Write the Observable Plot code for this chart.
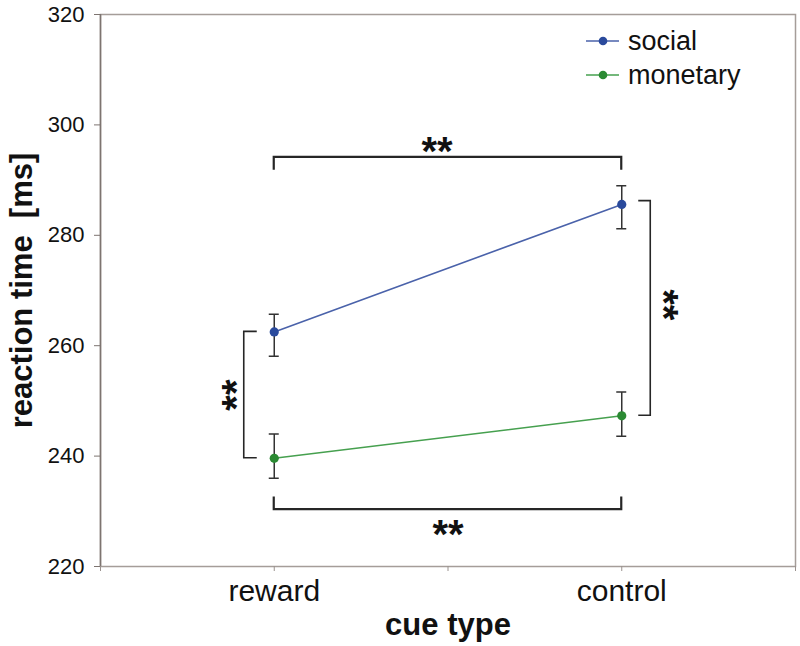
<!DOCTYPE html>
<html>
<head>
<meta charset="utf-8">
<script src="https://cdn.jsdelivr.net/npm/d3@7"></script>
<script src="https://cdn.jsdelivr.net/npm/@observablehq/plot@0.6"></script>
<style>
  body { margin: 0; background: #fff; }
  #wrap { position: relative; width: 800px; height: 646px; font-family: "Liberation Sans", Arial, sans-serif; }
  #legend { position: absolute; left: 586px; top: 24px; font-size: 27px; color: #111; }
  #legend .item { display: flex; align-items: center; height: 34px; }
  #legend svg { margin-right: 8px; }
</style>
</head>
<body>
<div id="wrap"><div id="legend"></div></div>
<script>
// ---- data ----
const categories = ["reward", "control"];
const socialMean = [262.5, 285.6];
const socialLow  = [258.0, 281.1];
const socialHigh = [265.6, 288.9];
const monetaryMean = [239.6, 247.3];
const monetaryLow  = [235.9, 243.5];
const monetaryHigh = [243.9, 251.5];
const yTicks = [220, 240, 260, 280, 300, 320];
const seriesNames = ["social", "monetary"];
const seriesDot  = ["#2a4a9c", "#2b8a33"];
const seriesLine = ["#4a62aa", "#46a04f"];
// significance brackets (value levels)
const topBracket = [294.1, 291.8];      // level, tip
const bottomBracket = [230.3, 232.6];   // level, tip
const rightBracketTop = 286.2;
const rightStarLevel = 267.4;
const sigLabel = "**";

// ---- table ----
const rows = [];
categories.forEach((c, i) => {
  rows.push({series: "social", xi: i + 0.5, cat: c, mean: socialMean[i], lo: socialLow[i], hi: socialHigh[i]});
  rows.push({series: "monetary", xi: i + 0.5, cat: c, mean: monetaryMean[i], lo: monetaryLow[i], hi: monetaryHigh[i]});
});
const colorOf = s => seriesDot[seriesNames.indexOf(s)];
const lineOf = s => seriesLine[seriesNames.indexOf(s)];

function brackets(index, scales) {
  const x = scales.x, y = scales.y;
  const g = d3.create("svg:g").attr("fill", "none").attr("stroke", "#262626");
  const x0 = x(0.5), x1 = x(1.5);
  g.append("path").attr("stroke-width", 2.2)
    .attr("d", `M${x0},${y(topBracket[1])}V${y(topBracket[0])}H${x1}V${y(topBracket[1])}`);
  g.append("path").attr("stroke-width", 2.2)
    .attr("d", `M${x0},${y(bottomBracket[1])}V${y(bottomBracket[0])}H${x1}V${y(bottomBracket[1])}`);
  const lx = x0 - 30, lt = x0 - 17;
  g.append("path").attr("stroke-width", 1.6)
    .attr("d", `M${lt},${y(socialMean[0])}H${lx}V${y(monetaryMean[0])}H${lt}`);
  const rx = x1 + 29, rt = x1 + 17;
  g.append("path").attr("stroke-width", 1.6)
    .attr("d", `M${rt},${y(rightBracketTop)}H${rx}V${y(monetaryMean[1])}H${rt}`);
  return g.node();
}

function errorCaps(index, scales) {
  const x = scales.x, y = scales.y;
  const g = d3.create("svg:g").attr("fill", "none").attr("stroke", "#333").attr("stroke-width", 1.5);
  for (const r of rows) {
    const cx = x(r.xi);
    g.append("path").attr("d", `M${cx - 5},${y(r.lo)}H${cx + 5}M${cx - 5},${y(r.hi)}H${cx + 5}`);
  }
  return g.node();
}

const starFont = 40;
const plot = Plot.plot({
  width: 800,
  height: 646,
  marginLeft: 100,
  marginRight: 5,
  marginTop: 14,
  marginBottom: 80,
  style: {fontFamily: "'Liberation Sans', Arial, sans-serif", color: "#111", background: "transparent"},
  x: {type: "linear", domain: [0, 2]},
  y: {domain: [220, 320]},
  marks: [
    Plot.frame({stroke: "#a59d99", strokeWidth: 1.5}),
    Plot.ruleX([0], {stroke: "#7d7470", strokeWidth: 1.5}),
    Plot.axisY({ticks: yTicks, tickSize: 6, tickPadding: 10, fontSize: 22, label: null, stroke: "#7d7470"}),
    Plot.axisX({ticks: [0, 0.5, 1, 1.5, 2], tickFormat: () => "", tickSize: 5, label: null, stroke: "#9a928e"}),
    Plot.axisX({ticks: [0.5, 1.5], tickFormat: d => categories[Math.floor(d)], tickSize: 0, tickPadding: 13, fontSize: 30, label: null}),
    Plot.text(["reaction time  [ms]"], {frameAnchor: "left", dx: -78, dy: 0, rotate: -90, fontSize: 31, fontWeight: "bold", textAnchor: "middle", lineAnchor: "middle"}),
    Plot.text(["cue type"], {frameAnchor: "bottom", dy: 46, fontSize: 31, fontWeight: "bold", lineAnchor: "top"}),
    brackets,
    Plot.text([sigLabel], {x: () => 1, y: () => topBracket[0], dx: -11, dy: -5, fontSize: starFont, fontWeight: "bold", lineAnchor: "middle", fill: "#111"}),
    Plot.text([sigLabel], {x: () => 1, y: () => bottomBracket[0], dy: 26, fontSize: starFont, fontWeight: "bold", lineAnchor: "middle", fill: "#111"}),
    Plot.text([sigLabel], {x: () => 0.5, y: () => (socialMean[0] + monetaryMean[0]) / 2, dx: -37, rotate: -90, fontSize: starFont, fontWeight: "bold", lineAnchor: "middle", fill: "#111"}),
    Plot.text([sigLabel], {x: () => 1.5, y: () => rightStarLevel, dx: 41, rotate: 90, fontSize: starFont, fontWeight: "bold", lineAnchor: "middle", fill: "#111"}),
    Plot.ruleX(rows, {x: "xi", y1: "lo", y2: "hi", stroke: "#333", strokeWidth: 1.5}),
    errorCaps,
    Plot.line(rows, {x: "xi", y: "mean", z: "series", stroke: d => lineOf(d.series), strokeWidth: 1.6}),
    Plot.dot(rows, {x: "xi", y: "mean", r: 4.6, fill: d => colorOf(d.series), stroke: "none"})
  ]
});
const wrap = document.getElementById("wrap");
wrap.insertBefore(plot, wrap.firstChild);

// legend
const legend = d3.select("#legend");
seriesNames.forEach((s, i) => {
  const item = legend.append("div").attr("class", "item");
  const sv = item.append("svg").attr("width", 34).attr("height", 12);
  sv.append("line").attr("x1", 0).attr("x2", 33).attr("y1", 6).attr("y2", 6).attr("stroke", seriesLine[i]).attr("stroke-width", 1.6);
  sv.append("circle").attr("cx", 17).attr("cy", 6).attr("r", 4.3).attr("fill", seriesDot[i]);
  item.append("span").text(s);
});
</script>
</body>
</html>
